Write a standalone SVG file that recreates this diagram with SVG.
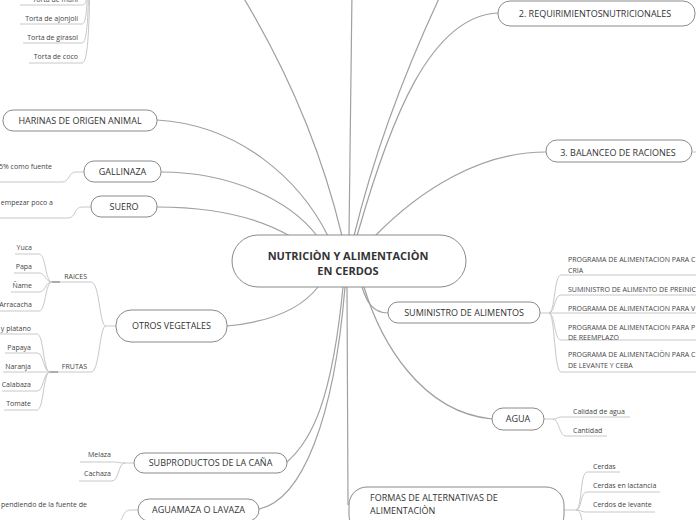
<svg xmlns="http://www.w3.org/2000/svg" width="696" height="520" viewBox="0 0 696 520">
<style>
.n{fill:#fff;stroke:#8a8a8a;stroke-width:1}
.t{font-family:"Open Sans","Noto Sans",sans-serif;font-size:9px;fill:#333}
.tc{font-family:"Open Sans","Noto Sans",sans-serif;font-size:11px;font-weight:bold;fill:#333}
.s{font-family:"Open Sans","Noto Sans",sans-serif;font-size:7px;fill:#444}
.c{fill:none;stroke:#a0a0a0;stroke-width:1.2}
.l{fill:none;stroke:#c8c8c8;stroke-width:1}
</style>
<rect width="696" height="520" fill="#fff"/>
<g id="connectors">
<path class="c" d="M342,236 Q312,110 240,-8"/>
<path class="c" d="M349,236 L352,-8"/>
<path class="c" d="M354,236 Q382,120 442,-8"/>
<path class="c" d="M357,236 C390,120 430,16 498,13"/>
<path class="c" d="M375,236 C420,190 480,152 546,152"/>
<path class="c" d="M157,120 C240,125 300,180 328,236"/>
<path class="c" d="M161,172 C230,172 290,200 317,236"/>
<path class="c" d="M157,207 C220,207 262,220 290,236"/>
<path class="c" d="M227,326 C270,322 300,310 318,287"/>
<path class="c" d="M287,462 C312,440 332,400 343,287"/>
<path class="c" d="M259,509 C302,500 334,420 345,287"/>
<path class="c" d="M347,287 L348,505"/>
<path class="c" d="M362,287 C366,300 372,313 388,313"/>
<path class="c" d="M364,287 C380,340 420,412 492,419"/>
<!-- tortas -->
<path class="l" d="M20,5 L82,5 C86,5 87,0 87,-10"/>
<path class="l" d="M20,24 L82,24 C86,24 87,10 88,-20"/>
<path class="l" d="M23,43 L82,43 C87,43 88,20 89,-20"/>
<path class="l" d="M29,63 L82,63 C88,63 89,30 90,-20"/>
<!-- gallinaza / suero -->
<path class="l" d="M84,172 L76,172 C68,172 70,182 62,182 L0,182"/>
<path class="l" d="M91,207 L82,207 C74,207 76,218 68,218 L0,218"/>
<!-- otros vegetales -->
<path class="l" d="M116,326 L106,326 C99,326 100,282 91,282 L52,282"/>
<path class="l" d="M106,326 C99,326 100,372 91,372 L50,372"/>
<path class="l" d="M52,282 C45,282 46,254 39,254 L15,254"/>
<path class="l" d="M52,282 C45,282 46,273 39,273 L14,273"/>
<path class="l" d="M52,282 C45,282 46,292 39,292 L11,292"/>
<path class="l" d="M52,282 C45,282 46,311 39,311 L0,311"/>
<path class="l" d="M50,372 C43,372 44,334 37,334 L0,334"/>
<path class="l" d="M50,372 C43,372 44,353 37,353 L5,353"/>
<path class="l" d="M50,372 L3,372"/>
<path class="l" d="M50,372 C43,372 44,391 37,391 L2,391"/>
<path class="l" d="M50,372 C43,372 44,410 37,410 L4,410"/>
<path stroke="#9a9a9a" stroke-width="1.5" d="M52,282 L60,282"/>
<path stroke="#9a9a9a" stroke-width="1.5" d="M50,372 L58,372"/>
<!-- subproductos -->
<path class="l" d="M134,463 L125,463 C119,463 119,462 112,462 L80,462"/>
<path class="l" d="M125,463 C118,463 119,481 112,481 L79,481"/>
<!-- aguamaza -->
<path class="l" d="M138,510 L130,510 C123,510 123,520 117,526"/>
<!-- suministro -->
<path class="l" d="M540,313 L549,313 C555,313 554,275 561,275 L696,275"/>
<path class="l" d="M549,313 C555,313 554,295 561,295 L696,295"/>
<path class="l" d="M549,313 L696,313"/>
<path class="l" d="M549,313 C555,313 554,340 561,340 L696,340"/>
<path class="l" d="M549,313 C555,313 554,372 561,372 L696,372"/>
<!-- agua -->
<path class="l" d="M544,419 L553,419 C558,419 557,417 562,417 L630,417"/>
<path class="l" d="M553,419 C559,419 559,436 566,436 L607,436"/>
<!-- formas -->
<path class="l" d="M564,510 L576,510 C582,510 580,472 587,472 L620,472"/>
<path class="l" d="M576,510 C582,510 580,492 587,492 L660,492"/>
<path class="l" d="M576,510 C582,510 580,512 587,512 L655,512"/>
<path class="l" d="M576,510 C582,510 581,520 584,530"/>
<path class="l" d="M692,152 L696,152"/>
</g>
<g id="center">
<rect class="n" x="232" y="235" width="234" height="52" rx="26" stroke-width="1.3"/>
<text class="tc" x="348" y="260" text-anchor="middle">NUTRICIÒN Y ALIMENTACIÒN</text>
<text class="tc" x="348" y="275" text-anchor="middle">EN CERDOS</text>
</g>
<g id="tortas">
<text class="s" x="78" y="2" text-anchor="end">Torta de maní</text>
<text class="s" x="78" y="20.5" text-anchor="end">Torta de ajonjolí</text>
<text class="s" x="78" y="39.5" text-anchor="end">Torta de girasol</text>
<text class="s" x="78" y="58.5" text-anchor="end">Torta de coco</text>
</g>
<g id="harinas">
<rect class="n" x="3" y="110" width="154" height="21" rx="10"/>
<text class="t" x="80" y="123.5" text-anchor="middle">HARINAS DE ORIGEN ANIMAL</text>
</g>
<g id="gallinaza">
<rect class="n" x="84" y="161" width="77" height="21" rx="10"/>
<text class="t" x="122.5" y="174.5" text-anchor="middle">GALLINAZA</text>
<text class="s" x="52" y="168.5" text-anchor="end">5% como fuente</text>
</g>
<g id="suero">
<rect class="n" x="91" y="196" width="66" height="21" rx="10"/>
<text class="t" x="124" y="209.5" text-anchor="middle">SUERO</text>
<text class="s" x="53" y="204.5" text-anchor="end">empezar poco a</text>
</g>
<g id="otros">
<rect class="n" x="116" y="310" width="111" height="32" rx="15"/>
<text class="t" x="171.5" y="329" text-anchor="middle">OTROS VEGETALES</text>
<text class="s" x="87" y="278.5" text-anchor="end">RAICES</text>
<text class="s" x="87" y="368.5" text-anchor="end">FRUTAS</text>
<text class="s" x="32" y="249.5" text-anchor="end">Yuca</text>
<text class="s" x="32" y="268.5" text-anchor="end">Papa</text>
<text class="s" x="32" y="287.5" text-anchor="end">Ñame</text>
<text class="s" x="32" y="306.5" text-anchor="end">Arracacha</text>
<text class="s" x="31" y="330.5" text-anchor="end">y platano</text>
<text class="s" x="31" y="349.5" text-anchor="end">Papaya</text>
<text class="s" x="31" y="368.5" text-anchor="end">Naranja</text>
<text class="s" x="31" y="387" text-anchor="end">Calabaza</text>
<text class="s" x="31" y="406" text-anchor="end">Tomate</text>
</g>
<g id="subproductos">
<rect class="n" x="134" y="453" width="153" height="20" rx="10"/>
<text class="t" x="210.5" y="466" text-anchor="middle">SUBPRODUCTOS DE LA CAÑA</text>
<text class="s" x="111" y="456.5" text-anchor="end">Melaza</text>
<text class="s" x="111" y="475.5" text-anchor="end">Cachaza</text>
</g>
<g id="aguamaza">
<rect class="n" x="138" y="499" width="121" height="22" rx="11"/>
<text class="t" x="198.5" y="513" text-anchor="middle">AGUAMAZA O LAVAZA</text>
<text class="s" x="87" y="506.5" text-anchor="end">pendiendo de la fuente de</text>
</g>
<g id="requerimientos">
<rect class="n" x="498" y="1" width="197" height="25" rx="12"/>
<text class="t" x="595" y="16.5" text-anchor="middle">2. REQUIRIMIENTOSNUTRICIONALES</text>
</g>
<g id="balanceo">
<rect class="n" x="546" y="140" width="146" height="22" rx="11"/>
<text class="t" x="618" y="155.5" text-anchor="middle">3. BALANCEO DE RACIONES</text>
</g>
<g id="suministro">
<rect class="n" x="388" y="302" width="152" height="21" rx="10"/>
<text class="t" x="464" y="315.5" text-anchor="middle">SUMINISTRO DE ALIMENTOS</text>
<text class="s" x="568" y="261.5">PROGRAMA DE ALIMENTACION PARA C</text>
<text class="s" x="568" y="272.5">CRIA</text>
<text class="s" x="568" y="291.5">SUMINISTRO DE ALIMENTO DE PREINIC</text>
<text class="s" x="568" y="310.5">PROGRAMA DE ALIMENTACION PARA V</text>
<text class="s" x="568" y="330">PROGRAMA DE ALIMENTACION PARA P</text>
<text class="s" x="568" y="339.5">DE REEMPLAZO</text>
<text class="s" x="568" y="357">PROGRAMA DE ALIMENTACIÒN PARA C</text>
<text class="s" x="568" y="368">DE LEVANTE Y CEBA</text>
</g>
<g id="agua">
<rect class="n" x="492" y="408" width="52" height="22" rx="11"/>
<text class="t" x="518" y="422" text-anchor="middle">AGUA</text>
<text class="s" x="573" y="413.5">Calidad de agua</text>
<text class="s" x="573" y="432.5">Cantidad</text>
</g>
<g id="formas">
<rect class="n" x="349" y="487" width="215" height="46" rx="18"/>
<text class="t" x="370" y="501">FORMAS DE ALTERNATIVAS DE</text>
<text class="t" x="370" y="514">ALIMENTACIÒN</text>
<text class="s" x="593" y="468.5">Cerdas</text>
<text class="s" x="593" y="487.5">Cerdas en lactancia</text>
<text class="s" x="593" y="506.5">Cerdos de levante</text>
</g>
</svg>
